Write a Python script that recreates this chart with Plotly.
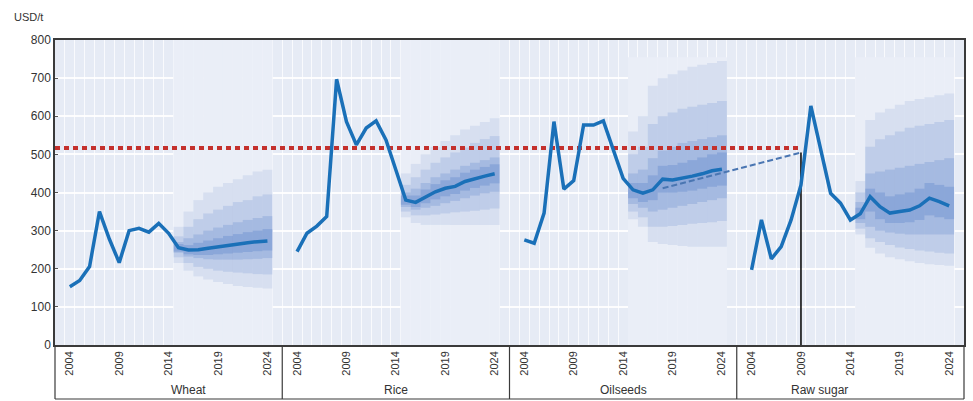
import plotly.graph_objects as go

# ---- data -------------------------------------------------------------
products = ["Wheat", "Rice", "Oilseeds", "Raw sugar"]
years = list(range(2004, 2025))
proj_years = list(range(2015, 2025))
label_years = [2004, 2009, 2014, 2019, 2024]

wheat = [153, 169, 206, 350, 278, 216, 300, 306, 296, 319, 293,
         255, 249, 250, 254, 258, 262, 265, 268, 271, 273]
rice = [245, 293, 312, 337, 697, 586, 525, 569, 588, 538, 459,
        380, 374, 389, 402, 411, 416, 429, 437, 443, 449]
oilseeds = [276, 267, 346, 586, 409, 431, 577, 577, 588, 512, 437,
            407, 398, 407, 435, 433, 437, 443, 449, 457, 461]
raw_sugar = [197, 328, 226, 258, 328, 420, 627, 512, 398, 372, 328,
             344, 389, 363, 346, 350, 354, 365, 385, 376, 365]
series = [wheat, rice, oilseeds, raw_sugar]

# stochastic ranges of the projections, from the widest band to the core
wheat_hi1 = [310, 350, 380, 400, 415, 425, 435, 445, 455, 460]
wheat_lo1 = [215, 195, 180, 172, 165, 160, 155, 152, 150, 148]
wheat_hi2 = [285, 310, 330, 345, 355, 365, 375, 380, 390, 395]
wheat_lo2 = [230, 215, 205, 200, 195, 192, 190, 188, 186, 185]
wheat_hi3 = [270, 280, 290, 300, 308, 315, 322, 328, 333, 338]
wheat_lo3 = [242, 232, 228, 225, 224, 224, 224, 225, 226, 228]
wheat_hi4 = [265, 262, 268, 274, 280, 286, 291, 296, 300, 304]
wheat_lo4 = [245, 238, 236, 236, 238, 240, 242, 244, 246, 248]

rice_hi1 = [450, 475, 500, 520, 535, 550, 565, 575, 585, 595]
rice_lo1 = [335, 320, 315, 315, 315, 315, 315, 315, 315, 315]
rice_hi2 = [420, 440, 460, 478, 492, 505, 518, 530, 540, 548]
rice_lo2 = [350, 340, 340, 342, 345, 348, 350, 352, 355, 358]
rice_hi3 = [400, 410, 425, 440, 450, 460, 470, 478, 485, 492]
rice_lo3 = [362, 355, 360, 365, 372, 378, 385, 392, 398, 402]
rice_hi4 = [392, 392, 408, 422, 432, 440, 452, 460, 467, 474]
rice_lo4 = [368, 362, 372, 382, 390, 396, 405, 412, 418, 424]

oil_hi1 = [560, 600, 680, 700, 710, 720, 730, 735, 740, 745]
oil_lo1 = [330, 310, 270, 265, 262, 260, 258, 258, 258, 258]
oil_hi2 = [500, 520, 580, 600, 610, 620, 625, 630, 635, 640]
oil_lo2 = [350, 335, 310, 310, 312, 315, 318, 320, 322, 325]
oil_hi3 = [450, 460, 490, 510, 520, 530, 535, 540, 545, 550]
oil_lo3 = [370, 360, 350, 355, 360, 365, 370, 375, 380, 385]
oil_hi4 = [425, 425, 445, 470, 472, 478, 485, 492, 500, 505]
oil_lo4 = [385, 375, 380, 400, 400, 402, 405, 410, 415, 418]

sugar_hi1 = [430, 590, 610, 620, 630, 640, 645, 650, 655, 660]
sugar_lo1 = [290, 255, 240, 230, 225, 220, 215, 212, 210, 208]
sugar_hi2 = [400, 520, 540, 550, 560, 570, 575, 580, 585, 590]
sugar_lo2 = [305, 280, 270, 262, 256, 252, 248, 245, 242, 240]
sugar_hi3 = [375, 450, 455, 460, 465, 470, 475, 480, 485, 490]
sugar_lo3 = [320, 310, 300, 295, 292, 290, 290, 290, 290, 290]
sugar_hi4 = [360, 410, 400, 390, 395, 400, 410, 425, 420, 415]
sugar_lo4 = [330, 350, 330, 320, 320, 322, 328, 340, 335, 330]

bands_hi = [[wheat_hi1, wheat_hi2, wheat_hi3, wheat_hi4],
            [rice_hi1, rice_hi2, rice_hi3, rice_hi4],
            [oil_hi1, oil_hi2, oil_hi3, oil_hi4],
            [sugar_hi1, sugar_hi2, sugar_hi3, sugar_hi4]]
bands_lo = [[wheat_lo1, wheat_lo2, wheat_lo3, wheat_lo4],
            [rice_lo1, rice_lo2, rice_lo3, rice_lo4],
            [oil_lo1, oil_lo2, oil_lo3, oil_lo4],
            [sugar_lo1, sugar_lo2, sugar_lo3, sugar_lo4]]
fan_top = [800, 800, 755, 755]

threshold = 517                      # 2008-2009 reference price level
trend_start = ("Oilseeds", 2018, 411)
trend_end = ("Raw sugar", 2009, 505)

# ---- layout helpers ---------------------------------------------------
SLOTS = 23          # 21 years + padding per panel
PAD = 1.5


def pos(panel, year):
    return SLOTS * panel + PAD + (year - 2004)


NP = len(products)
XMAX = SLOTS * NP

BG = "#e6ebf5"
FAN_BG = "#eaeef7"
LINE = "#1a70b8"
FONT = "Liberation Sans"

fig = go.Figure()

# light background block behind every projection period
fx, fy = [], []
for p in range(NP):
    for yr in proj_years:
        fx.append(pos(p, yr))
        fy.append(fan_top[p])
fig.add_trace(go.Bar(x=fx, y=fy, base=0, width=1.02, marker_color=FAN_BG,
                     marker_line_width=0, hoverinfo="skip", showlegend=False))

# stacked translucent bands form the fan
alphas = [0.1, 0.14, 0.18, 0.22]
for lvl in range(len(alphas)):
    bx, bb, bh = [], [], []
    for p in range(NP):
        for i, yr in enumerate(proj_years):
            lo = bands_lo[p][lvl][i]
            hi = bands_hi[p][lvl][i]
            bx.append(pos(p, yr))
            bb.append(lo)
            bh.append(hi - lo)
    fig.add_trace(go.Bar(x=bx, y=bh, base=bb, width=1.0,
                         marker_color=f"rgba(50,100,190,{alphas[lvl]})",
                         marker_line_width=0, hoverinfo="skip",
                         showlegend=False))

# reference price level and trend to the sugar peak
sugar_p = products.index(trend_end[0])
fig.add_trace(go.Scatter(x=[0, pos(sugar_p, trend_end[1])],
                         y=[threshold, threshold], mode="lines",
                         line=dict(color="#c4302c", width=4, dash="5px,4px"),
                         hoverinfo="skip", showlegend=False))
fig.add_trace(go.Scatter(
    x=[pos(products.index(trend_start[0]), trend_start[1]),
       pos(sugar_p, trend_end[1])],
    y=[trend_start[2], trend_end[2]], mode="lines",
    line=dict(color="#4a76b2", width=2, dash="6px,3px"),
    hoverinfo="skip", showlegend=False))
fig.add_trace(go.Scatter(x=[pos(sugar_p, trend_end[1])] * 2,
                         y=[trend_end[2], 0], mode="lines",
                         line=dict(color="black", width=1.5),
                         hoverinfo="skip", showlegend=False))

# price lines
for p, vals in enumerate(series):
    fig.add_trace(go.Scatter(x=[pos(p, y) for y in years], y=vals,
                             mode="lines", name=products[p],
                             line=dict(color=LINE, width=3.5),
                             showlegend=False))

tickvals, ticktext = [], []
for p in range(NP):
    for y in label_years:
        tickvals.append(pos(p, y))
        ticktext.append(str(y))

fig.update_layout(
    width=973, height=401,
    margin=dict(l=55, r=7, t=40, b=56),
    paper_bgcolor="white", plot_bgcolor=BG,
    barmode="overlay",
    font=dict(family=FONT, size=12, color="#333"),
    xaxis=dict(range=[0, XMAX], tickvals=tickvals, ticktext=ticktext,
               tickangle=-90, tickfont=dict(size=11, color="#333"),
               showgrid=False, zeroline=False, ticks="",
               showline=True, linecolor="#3a3a3a", linewidth=1.5, mirror=True,
               minor=dict(tick0=0, dtick=1, showgrid=True,
                          gridcolor="rgba(255,255,255,0.75)", gridwidth=1,
                          ticks="")),
    yaxis=dict(range=[0, 800], dtick=100, showgrid=True,
               gridcolor="rgba(255,255,255,0.9)", gridwidth=1.5,
               zeroline=False, ticks="inside", ticklen=3, tickcolor="#555",
               showline=True, linecolor="#3a3a3a", linewidth=1.5, mirror=True,
               tickfont=dict(size=12, color="#333")),
)

# category box under the year labels
plot_h = 401 - 40 - 56
box_bottom = -54 / plot_h
for k in range(NP + 1):
    fig.add_shape(type="line", xref="paper", yref="paper",
                  x0=k / NP, x1=k / NP, y0=0, y1=box_bottom,
                  line=dict(color="#3a3a3a", width=1.2))
fig.add_shape(type="line", xref="paper", yref="paper", x0=0, x1=1,
              y0=box_bottom, y1=box_bottom,
              line=dict(color="#3a3a3a", width=1.2))

for p, name in enumerate(products):
    fig.add_annotation(text=name, xref="paper", yref="paper",
                       x=(p + 0.5) / NP, y=0, yshift=-45,
                       yanchor="middle", showarrow=False,
                       font=dict(size=12, color="#333"))

fig.add_annotation(text="USD/t", xref="paper", yref="paper",
                   x=-43 / 911, y=1 + 23 / plot_h, xanchor="left",
                   yanchor="middle", showarrow=False,
                   font=dict(size=11, color="#333"))

fig.write_html("out.html")
